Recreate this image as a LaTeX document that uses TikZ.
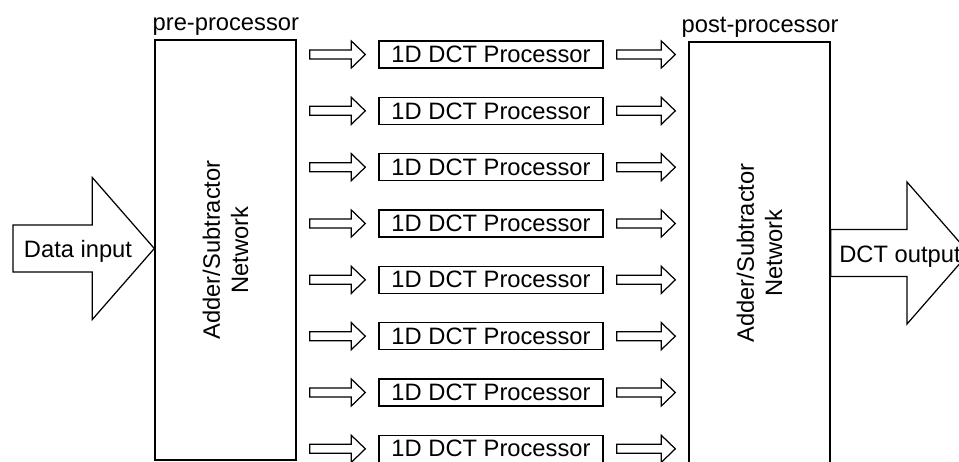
\documentclass[tikz,border=0pt]{standalone}
\usepackage{fontspec}
\setmainfont{Liberation Sans}
\usetikzlibrary{positioning,calc}
\newcommand{\diafont}{\fontsize{13.5}{16.2}\selectfont}
\tikzset{
  netbox/.style={draw=black, line width=0.8pt, minimum width=2.82cm, inner sep=0pt},
  dctbox/.style={draw=black, line width=0.8pt, minimum width=4.48cm, minimum height=0.54cm, inner sep=0pt, font=\diafont},
  lbl/.style={font=\diafont, inner sep=0pt},
  blockarrow/.style n args={3}{draw=black, line width=0.7pt, to path={let \p1=(\tikztostart), \p2=(\tikztotarget) in
    (\x1,{\y1+#1}) -- ({\x2-#3},{\y1+#1}) -- ({\x2-#3},{\y1+#2}) -- (\x2,\y1) -- ({\x2-#3},{\y1-#2}) -- ({\x2-#3},{\y1-#1}) -- (\x1,{\y1-#1}) -- cycle}},
  thinarrow/.style={blockarrow={0.09cm}{0.27cm}{0.28cm}},
  bigarrow/.style={blockarrow={0.47cm}{1.42cm}{1.24cm}}
}
\begin{document}
\begin{tikzpicture}[x=0.02cm, y=-0.02cm]
  \path[use as bounding box, fill=white] (0,0) rectangle (959,461);
  \clip (0,0) rectangle (959,461);
  % adder/subtractor networks
  \node[netbox, minimum height=8.4cm] (pre) at (225.5,250) {};
  \node[netbox, minimum height=8.44cm] (post) at (759.5,253) {};
  \node[lbl, rotate=90, align=center] (pretxt) at (pre.center) {Adder/Subtractor\\Network};
  \node[lbl, rotate=90, align=center] (posttxt) at (post.center) {Adder/Subtractor\\Network};
  \node[lbl, anchor=base west] (prelbl) at ([shift={(-2,-9)}]pre.north west) {pre-processor};
  \node[lbl, anchor=base west] (postlbl) at ([shift={(-7,-9)}]post.north west) {post-processor};
  % eight 1D DCT rows
  \foreach \i in {1,...,8} {
    \node[dctbox] (dct\i) at (491,{54.5+56.33*(\i-1)}) {1D DCT Processor};
    \draw[thinarrow] ($(pre.east |- dct\i)+(13,0)$) to ($(dct\i.west)+(-13,0)$);
    \draw[thinarrow] ($(dct\i.east)+(13,0)$) to ($(post.west |- dct\i)+(-13,0)$);
  }
  % input and output
  \coordinate (din) at (13,248.5);
  \draw[bigarrow] (din) to (din -| pre.west);
  \node[lbl, anchor=base] (dinlbl) at (78,257) {Data input};
  \coordinate (dout) at (969,253);
  \draw[bigarrow] (dout -| post.east) to (dout);
  \node[lbl, anchor=base west] (doutlbl) at (839,262) {DCT output};
\end{tikzpicture}
\end{document}
